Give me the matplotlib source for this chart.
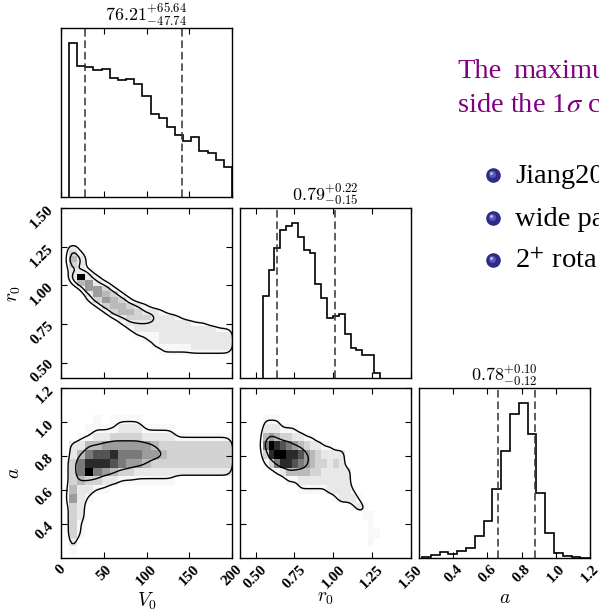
import numpy as np
import matplotlib
matplotlib.use("Agg")
import matplotlib.pyplot as plt
from matplotlib.colors import PowerNorm

plt.rcParams["mathtext.fontset"] = "cm"
plt.rcParams["font.family"] = ["Liberation Serif", "DejaVu Serif"]

# ---- 1D marginals (20 bins each) ----
v0_edges = np.linspace(9.4, 200.0, 21)
v0_counts = [460, 392, 390, 380, 382, 355, 350, 354, 338, 302,
             250, 237, 210, 185, 168, 180, 138, 133, 112, 90]

r0_edges = np.linspace(0.546, 1.300, 21)
r0_counts = [246, 322, 388, 440, 452, 461, 420, 383, 374, 280,
             238, 180, 184, 190, 132, 89, 84, 70, 70, 14]

a_edges = np.linspace(0.217, 1.247, 21)
a_counts = [3, 8, 18, 13, 20, 30, 65, 110, 205, 320,
            430, 462, 370, 195, 75, 15, 5, 2, 1, 0]

# median, +err, -err shown in the titles
v0_stats = [76.21, 65.64, 47.74]
r0_stats = [0.79, 0.22, 0.15]
a_stats = [0.78, 0.10, 0.12]

# ---- 2D histograms: density 0-9 per bin, top row = highest y bin ----
v0_r0_grid = [
    "00000000000000000000",
    "20000000000000000000",
    "31000000000000000000",
    "42000000000000000000",
    "32000000000000000000",
    "22100000000000000000",
    "29210000000000000000",
    "14521000000000000000",
    "01553100000000000000",
    "00254310000000000000",
    "00135431000000000000",
    "00013443210000000000",
    "00001344322100000000",
    "00000123332221000000",
    "00000012222222211000",
    "00000001222222222211",
    "00000000111222222222",
    "00000000011222222222",
    "00000000001111122222",
    "00000000000111111111",
]

v0_a_grid = [
    "00000000000000000000",
    "00000000000000000000",
    "00000000000000000000",
    "00000000000000000000",
    "00010111100000000000",
    "00111122211110000000",
    "01122333322221111111",
    "22445555554333333333",
    "24677866655433333333",
    "36888765543333333333",
    "36965433222222222222",
    "34332211111110000000",
    "42211000000000000000",
    "52100000000000000000",
    "32000000000000000000",
    "32000000000000000000",
    "31000000000000000000",
    "31000000000000000000",
    "20000000000000000000",
    "10000000000000000000",
]

r0_a_grid = [
    "00000000000000000000",
    "00000000000000000000",
    "00000000000000000000",
    "00000000000000000000",
    "11100000000000000000",
    "22211100000000000000",
    "45433221100000000000",
    "69876543221100000000",
    "38998875432222000000",
    "13688765433232000000",
    "00124444332222200000",
    "00001122222222200000",
    "00000011111222210000",
    "00000000000012221000",
    "00000000000000012100",
    "00000000000000000110",
    "00000000000000000010",
    "00000000000000000011",
    "00000000000000000010",
    "00000000000000000000",
]

v0_lim = (0, 200)
r0_lim = (0.4, 1.5)
a_lim = (0.2, 1.2)
v0_ticks = [0, 50, 100, 150, 200]
r0_ticks = [0.5, 0.75, 1.0, 1.25, 1.5]
a_ticks = [0.4, 0.6, 0.8, 1.0, 1.2]


def grid_to_array(rows):
    return np.array([[int(c) for c in r] for r in rows], dtype=float)[::-1]


def smooth(z, s):
    n = int(3 * s) + 1
    k = np.exp(-0.5 * (np.arange(-n, n + 1) / s) ** 2)
    k /= k.sum()
    z = np.apply_along_axis(lambda m: np.convolve(m, k, "same"), 0, z)
    z = np.apply_along_axis(lambda m: np.convolve(m, k, "same"), 1, z)
    return z


def levels_from_mass(z, fracs):
    flat = np.sort(z.ravel())[::-1]
    cum = np.cumsum(flat)
    cum /= cum[-1]
    return sorted(flat[np.searchsorted(cum, f)] for f in fracs)


fig = plt.figure(figsize=(5.99, 6.12), dpi=100)


def add(left, top, w=171, h=170):
    return fig.add_axes([left / 599, 1 - (top + h) / 612, w / 599, h / 612])


def style(ax):
    ax.tick_params(direction="in", top=True, right=True, length=4.5, width=0.8,
                   labelsize=11)
    for s in ax.spines.values():
        s.set_linewidth(1.0)
    for lab in ax.get_xticklabels() + ax.get_yticklabels():
        lab.set_fontweight("bold")
        lab.set_rotation(45)


def hist1d(ax, edges, counts, stats, lim, ticks, fmt):
    ax.stairs(counts, edges, color="k", lw=1.2)
    lo = stats[0] - stats[2]
    hi = stats[0] + stats[1]
    for q in (lo, hi):
        ax.axvline(q, color="#333333", lw=1.1, dashes=(5, 2.5))
    ax.set_xlim(lim)
    ax.set_ylim(0, 1.1 * max(counts))
    ax.set_yticks([])
    ax.set_xticks(ticks)
    title = r"$%s^{+%s}_{-%s}$" % (fmt.format(stats[0]), fmt.format(stats[1]),
                                   fmt.format(stats[2]))
    ax.set_title(title, fontsize=13, pad=5)


def hist2d(ax, xe, ye, rows, xlim, ylim, xt, yt):
    h = grid_to_array(rows)
    ax.pcolormesh(xe, ye, h, cmap="gray_r", norm=PowerNorm(1.6, vmin=0, vmax=9))
    f, pad = 4, 3
    fine = np.kron(h, np.ones((f, f)))
    fine = np.pad(fine, pad * f)
    dx = (xe[-1] - xe[0]) / (len(xe) - 1) / f
    dy = (ye[-1] - ye[0]) / (len(ye) - 1) / f
    xc = xe[0] + (np.arange(fine.shape[1]) - pad * f + 0.5) * dx
    yc = ye[0] + (np.arange(fine.shape[0]) - pad * f + 0.5) * dy
    z = smooth(fine, 2.0)
    lv = levels_from_mass(z, [0.40, 0.90])
    ax.contour(xc, yc, z, levels=lv, colors="k", linewidths=1.0)
    ax.set_xlim(xlim)
    ax.set_ylim(ylim)
    ax.set_xticks(xt)
    ax.set_yticks(yt)


ax_v = add(61, 28, h=169)
ax_vr = add(61, 208)
ax_r = add(240, 208)
ax_va = add(61, 388)
ax_ra = add(240, 388)
ax_a = add(419, 388)

hist1d(ax_v, v0_edges, v0_counts, v0_stats, v0_lim, v0_ticks, "{:.2f}")
hist1d(ax_r, r0_edges, r0_counts, r0_stats, r0_lim, r0_ticks, "{:.2f}")
hist1d(ax_a, a_edges, a_counts, a_stats, a_lim, a_ticks, "{:.2f}")

hist2d(ax_vr, v0_edges, r0_edges, v0_r0_grid, v0_lim, r0_lim, v0_ticks, r0_ticks)
hist2d(ax_va, v0_edges, a_edges, v0_a_grid, v0_lim, a_lim, v0_ticks, a_ticks)
hist2d(ax_ra, r0_edges, a_edges, r0_a_grid, r0_lim, a_lim, r0_ticks, a_ticks)

ax_v.set_xticklabels([])
ax_r.set_xticklabels([])
ax_vr.set_xticklabels([])
ax_ra.set_yticklabels([])

ax_vr.set_yticklabels(["0.50", "0.75", "1.00", "1.25", "1.50"])
ax_va.set_yticklabels(["0.4", "0.6", "0.8", "1.0", "1.2"])
ax_va.set_xticklabels(["0", "50", "100", "150", "200"])
ax_ra.set_xticklabels(["0.50", "0.75", "1.00", "1.25", "1.50"])
ax_a.set_xticklabels(["0.4", "0.6", "0.8", "1.0", "1.2"])

for ax in (ax_v, ax_vr, ax_r, ax_va, ax_ra, ax_a):
    style(ax)

ax_va.set_xlabel(r"$V_0$", fontsize=14)
ax_ra.set_xlabel(r"$r_0$", fontsize=14)
ax_a.set_xlabel(r"$a$", fontsize=14)
ax_vr.set_ylabel(r"$r_0$", fontsize=14)
ax_va.set_ylabel(r"$a$", fontsize=14)
for ax in (ax_va, ax_ra, ax_a):
    ax.xaxis.set_label_coords(0.5, -0.19)
for ax in (ax_vr, ax_va):
    ax.yaxis.set_label_coords(-0.225, 0.5)

# ---- slide text on the right (cut at the figure edge) ----
purple = "#800080"
fig.text(457 / 599, 1 - 78 / 612, "The", color=purple, fontsize=20.5,
         family="Liberation Serif")
fig.text(513 / 599, 1 - 78 / 612, "maximu", color=purple, fontsize=20.5,
         family="Liberation Serif")
fig.text(457 / 599, 1 - 111.5 / 612, r"side the 1$\sigma$ c", color=purple,
         fontsize=20.5, family="Liberation Serif", math_fontfamily="stix")

bullets = ["Jiang20", "wide pa", r"2$^{+}$ rota"]
bullet_y = [183, 226, 268]
for txt, yb in zip(bullets, bullet_y):
    fig.text(515 / 599, 1 - yb / 612, txt, color="black", fontsize=20.5,
             family="Liberation Serif", math_fontfamily="stix")
    cy = 1 - (yb - 8) / 612
    fig.lines.append(plt.Line2D([493 / 599], [cy], marker="o", ms=9.5,
                                color="#2c2c86", transform=fig.transFigure))
    fig.lines.append(plt.Line2D([492 / 599], [cy + 1.5 / 612], marker="o", ms=5,
                                color="#5a5ab4", mew=0, transform=fig.transFigure))
    fig.lines.append(plt.Line2D([491 / 599], [cy + 2.5 / 612], marker="o", ms=2.2,
                                color="#b8b8e8", mew=0, transform=fig.transFigure))

fig.savefig("out.png", dpi=100, facecolor="white")
